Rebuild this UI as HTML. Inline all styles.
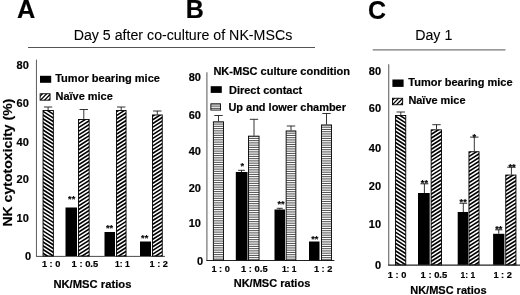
<!DOCTYPE html>
<html><head><meta charset="utf-8"><title>NK cytotoxicity</title>
<style>
html,body{margin:0;padding:0;background:#fff;}
body{width:520px;height:295px;overflow:hidden;}
svg{display:block;font-family:"Liberation Sans", Arial, sans-serif;fill:#000;}
text{stroke:#000;stroke-width:0.18px;stroke-linejoin:round;}
text.n{stroke-width:0.08px;}
</style></head><body>
<svg width="520" height="295" viewBox="0 0 520 295">
<rect width="520" height="295" fill="#fff"/>

<text x="16.9" y="18.5" transform="rotate(0.02 16.9 18.5)" font-size="25.3" font-weight="bold" text-anchor="start" >A</text>
<text x="185.7" y="18.5" transform="rotate(0.02 185.7 18.5)" font-size="25" font-weight="bold" text-anchor="start" >B</text>
<text x="368.1" y="18.7" transform="rotate(0.02 368.1 18.7)" font-size="25" font-weight="bold" text-anchor="start" >C</text>
<text class="n" x="73.65" y="40.1" transform="rotate(0.02 73.65 40.1)" font-size="14" font-weight="normal" text-anchor="start" textLength="218.6" lengthAdjust="spacingAndGlyphs" >Day 5 after co-culture of NK-MSCs</text>
<text class="n" x="415.2" y="40.1" transform="rotate(0.02 415.2 40.1)" font-size="14" font-weight="normal" text-anchor="start" textLength="37.1" lengthAdjust="spacingAndGlyphs" >Day 1</text>
<path d="M28 47.5H315" stroke="#555" stroke-width="1"/>
<path d="M372.7 49.9H505.5" stroke="#777" stroke-width="1.4"/>
<path d="M36.45 59.7V256.4" stroke="#4a4a4a" stroke-width="0.9" fill="none"/>
<path d="M36.150000000000006 256.4H165" stroke="#2a2a2a" stroke-width="0.85" fill="none"/>
<text x="28.8" y="69.15" transform="rotate(0.02 28.8 69.15)" font-size="11" font-weight="bold" text-anchor="end" >80</text>
<text x="28.8" y="106.95" transform="rotate(0.02 28.8 106.95)" font-size="11" font-weight="bold" text-anchor="end" >60</text>
<text x="28.8" y="145.55" transform="rotate(0.02 28.8 145.55)" font-size="11" font-weight="bold" text-anchor="end" >40</text>
<text x="28.8" y="183.25" transform="rotate(0.02 28.8 183.25)" font-size="11" font-weight="bold" text-anchor="end" >20</text>
<text x="28.8" y="222.25" transform="rotate(0.02 28.8 222.25)" font-size="11" font-weight="bold" text-anchor="end" >10</text>
<text x="31.0" y="259.75" transform="rotate(0.02 31.0 259.75)" font-size="11" font-weight="bold" text-anchor="end" >0</text>
<text transform="translate(12.4,162.6) rotate(-90)" font-size="13.3" font-weight="bold" text-anchor="middle" textLength="128" lengthAdjust="spacingAndGlyphs">NK cytotoxicity (%)</text>
<clipPath id="c1"><rect x="43.05" y="110.45" width="10.30" height="145.55"/></clipPath>
<rect x="43.05" y="110.45" width="10.30" height="145.55" fill="#fff"/>
<path clip-path="url(#c1)" d="M42.05 99.52L54.35 107.35M42.05 103.25L54.35 111.09M42.05 106.99L54.35 114.82M42.05 110.72L54.35 118.56M42.05 114.46L54.35 122.29M42.05 118.19L54.35 126.03M42.05 121.93L54.35 129.76M42.05 125.66L54.35 133.50M42.05 129.40L54.35 137.23M42.05 133.13L54.35 140.97M42.05 136.87L54.35 144.70M42.05 140.60L54.35 148.44M42.05 144.34L54.35 152.17M42.05 148.07L54.35 155.91M42.05 151.81L54.35 159.64M42.05 155.54L54.35 163.38M42.05 159.27L54.35 167.11M42.05 163.01L54.35 170.85M42.05 166.74L54.35 174.58M42.05 170.48L54.35 178.32M42.05 174.21L54.35 182.05M42.05 177.95L54.35 185.79M42.05 181.68L54.35 189.52M42.05 185.42L54.35 193.26M42.05 189.15L54.35 196.99M42.05 192.89L54.35 200.73M42.05 196.62L54.35 204.46M42.05 200.36L54.35 208.20M42.05 204.09L54.35 211.93M42.05 207.83L54.35 215.66M42.05 211.56L54.35 219.40M42.05 215.30L54.35 223.13M42.05 219.03L54.35 226.87M42.05 222.77L54.35 230.60M42.05 226.50L54.35 234.34M42.05 230.24L54.35 238.07M42.05 233.97L54.35 241.81M42.05 237.71L54.35 245.54M42.05 241.44L54.35 249.28M42.05 245.18L54.35 253.01M42.05 248.91L54.35 256.75M42.05 252.65L54.35 260.48M42.05 256.38L54.35 264.22M42.05 260.12L54.35 267.95M42.05 263.85L54.35 271.69" stroke="#000" stroke-width="1.6" fill="none"/>
<rect x="43.05" y="110.45" width="10.30" height="145.55" fill="none" stroke="#000" stroke-width="0.9"/>
<path d="M48.1 110V107M43.9 107H52.300000000000004" stroke="#111" stroke-width="0.85" fill="none"/>
<rect x="65.5" y="207.5" width="11.50" height="48.50" fill="#000"/>
<clipPath id="c2"><rect x="78.45" y="119.45" width="10.70" height="136.55"/></clipPath>
<rect x="78.45" y="119.45" width="10.70" height="136.55" fill="#fff"/>
<path clip-path="url(#c2)" d="M77.45 109.54L90.15 101.44M77.45 113.27L90.15 105.18M77.45 117.01L90.15 108.91M77.45 120.74L90.15 112.65M77.45 124.48L90.15 116.38M77.45 128.21L90.15 120.12M77.45 131.95L90.15 123.85M77.45 135.68L90.15 127.59M77.45 139.41L90.15 131.32M77.45 143.15L90.15 135.06M77.45 146.88L90.15 138.79M77.45 150.62L90.15 142.53M77.45 154.35L90.15 146.26M77.45 158.09L90.15 150.00M77.45 161.82L90.15 153.73M77.45 165.56L90.15 157.47M77.45 169.29L90.15 161.20M77.45 173.03L90.15 164.94M77.45 176.76L90.15 168.67M77.45 180.50L90.15 172.41M77.45 184.23L90.15 176.14M77.45 187.97L90.15 179.88M77.45 191.70L90.15 183.61M77.45 195.44L90.15 187.35M77.45 199.17L90.15 191.08M77.45 202.91L90.15 194.82M77.45 206.64L90.15 198.55M77.45 210.38L90.15 202.29M77.45 214.11L90.15 206.02M77.45 217.85L90.15 209.76M77.45 221.58L90.15 213.49M77.45 225.32L90.15 217.23M77.45 229.05L90.15 220.96M77.45 232.79L90.15 224.70M77.45 236.52L90.15 228.43M77.45 240.26L90.15 232.17M77.45 243.99L90.15 235.90M77.45 247.73L90.15 239.64M77.45 251.46L90.15 243.37M77.45 255.20L90.15 247.11M77.45 258.93L90.15 250.84M77.45 262.67L90.15 254.58M77.45 266.40L90.15 258.31" stroke="#000" stroke-width="1.6" fill="none"/>
<rect x="78.45" y="119.45" width="10.70" height="136.55" fill="none" stroke="#000" stroke-width="0.9"/>
<path d="M83.8 119V109.5M79.6 109.5H88.0" stroke="#111" stroke-width="0.85" fill="none"/>
<rect x="104.5" y="232" width="10.50" height="24.00" fill="#000"/>
<clipPath id="c3"><rect x="116.45" y="110.45" width="9.60" height="145.55"/></clipPath>
<rect x="116.45" y="110.45" width="9.60" height="145.55" fill="#fff"/>
<path clip-path="url(#c3)" d="M115.45 101.24L127.05 93.85M115.45 104.97L127.05 97.58M115.45 108.71L127.05 101.32M115.45 112.44L127.05 105.05M115.45 116.18L127.05 108.79M115.45 119.91L127.05 112.52M115.45 123.65L127.05 116.26M115.45 127.38L127.05 119.99M115.45 131.12L127.05 123.73M115.45 134.85L127.05 127.46M115.45 138.59L127.05 131.20M115.45 142.32L127.05 134.93M115.45 146.06L127.05 138.67M115.45 149.79L127.05 142.40M115.45 153.53L127.05 146.14M115.45 157.26L127.05 149.87M115.45 161.00L127.05 153.60M115.45 164.73L127.05 157.34M115.45 168.46L127.05 161.07M115.45 172.20L127.05 164.81M115.45 175.93L127.05 168.54M115.45 179.67L127.05 172.28M115.45 183.40L127.05 176.01M115.45 187.14L127.05 179.75M115.45 190.87L127.05 183.48M115.45 194.61L127.05 187.22M115.45 198.34L127.05 190.95M115.45 202.08L127.05 194.69M115.45 205.81L127.05 198.42M115.45 209.55L127.05 202.16M115.45 213.28L127.05 205.89M115.45 217.02L127.05 209.63M115.45 220.75L127.05 213.36M115.45 224.49L127.05 217.10M115.45 228.22L127.05 220.83M115.45 231.96L127.05 224.57M115.45 235.69L127.05 228.30M115.45 239.43L127.05 232.04M115.45 243.16L127.05 235.77M115.45 246.90L127.05 239.51M115.45 250.63L127.05 243.24M115.45 254.37L127.05 246.98M115.45 258.10L127.05 250.71M115.45 261.84L127.05 254.45M115.45 265.57L127.05 258.18" stroke="#000" stroke-width="1.6" fill="none"/>
<rect x="116.45" y="110.45" width="9.60" height="145.55" fill="none" stroke="#000" stroke-width="0.9"/>
<path d="M121.2 110V107M117.0 107H125.4" stroke="#111" stroke-width="0.85" fill="none"/>
<rect x="140" y="241.5" width="11.00" height="14.50" fill="#000"/>
<clipPath id="c4"><rect x="152.45" y="114.95" width="9.80" height="141.05"/></clipPath>
<rect x="152.45" y="114.95" width="9.80" height="141.05" fill="#fff"/>
<path clip-path="url(#c4)" d="M151.45 105.61L163.25 98.09M151.45 109.34L163.25 101.83M151.45 113.08L163.25 105.56M151.45 116.81L163.25 109.30M151.45 120.55L163.25 113.03M151.45 124.28L163.25 116.77M151.45 128.02L163.25 120.50M151.45 131.75L163.25 124.24M151.45 135.49L163.25 127.97M151.45 139.22L163.25 131.71M151.45 142.96L163.25 135.44M151.45 146.69L163.25 139.18M151.45 150.43L163.25 142.91M151.45 154.16L163.25 146.65M151.45 157.90L163.25 150.38M151.45 161.63L163.25 154.12M151.45 165.37L163.25 157.85M151.45 169.10L163.25 161.59M151.45 172.84L163.25 165.32M151.45 176.57L163.25 169.05M151.45 180.31L163.25 172.79M151.45 184.04L163.25 176.52M151.45 187.78L163.25 180.26M151.45 191.51L163.25 183.99M151.45 195.25L163.25 187.73M151.45 198.98L163.25 191.46M151.45 202.72L163.25 195.20M151.45 206.45L163.25 198.93M151.45 210.19L163.25 202.67M151.45 213.92L163.25 206.40M151.45 217.66L163.25 210.14M151.45 221.39L163.25 213.87M151.45 225.13L163.25 217.61M151.45 228.86L163.25 221.34M151.45 232.60L163.25 225.08M151.45 236.33L163.25 228.81M151.45 240.07L163.25 232.55M151.45 243.80L163.25 236.28M151.45 247.54L163.25 240.02M151.45 251.27L163.25 243.75M151.45 255.01L163.25 247.49M151.45 258.74L163.25 251.22M151.45 262.48L163.25 254.96M151.45 266.21L163.25 258.69" stroke="#000" stroke-width="1.6" fill="none"/>
<rect x="152.45" y="114.95" width="9.80" height="141.05" fill="none" stroke="#000" stroke-width="0.9"/>
<path d="M157.3 114.5V111M153.10000000000002 111H161.5" stroke="#111" stroke-width="0.85" fill="none"/>
<text x="71.7" y="201.8" transform="rotate(0.02 71.7 201.8)" font-size="9.2" font-weight="bold" text-anchor="middle" >**</text>
<text x="109.5" y="231.3" transform="rotate(0.02 109.5 231.3)" font-size="9.2" font-weight="bold" text-anchor="middle" >**</text>
<text x="144.7" y="240.9" transform="rotate(0.02 144.7 240.9)" font-size="9.2" font-weight="bold" text-anchor="middle" >**</text>
<text x="41.9" y="267" transform="rotate(0.02 41.9 267)" font-size="9.1" font-weight="bold" text-anchor="start" textLength="18.5" lengthAdjust="spacingAndGlyphs" >1 : 0</text>
<text x="71.6" y="267" transform="rotate(0.02 71.6 267)" font-size="9.1" font-weight="bold" text-anchor="start" textLength="26.6" lengthAdjust="spacingAndGlyphs" >1 : 0.5</text>
<text x="115.0" y="267" transform="rotate(0.02 115.0 267)" font-size="9.1" font-weight="bold" text-anchor="start" textLength="14.6" lengthAdjust="spacingAndGlyphs" >1: 1</text>
<text x="149.5" y="267" transform="rotate(0.02 149.5 267)" font-size="9.1" font-weight="bold" text-anchor="start" textLength="18.4" lengthAdjust="spacingAndGlyphs" >1 : 2</text>
<text x="53.4" y="287.8" transform="rotate(0.02 53.4 287.8)" font-size="10.5" font-weight="bold" text-anchor="start" textLength="78" lengthAdjust="spacingAndGlyphs" >NK/MSC ratios</text>
<rect x="40" y="75.8" width="11.2" height="7" fill="#000"/>
<text x="55.2" y="81.9" transform="rotate(0.02 55.2 81.9)" font-size="10" font-weight="bold" text-anchor="start" textLength="104.8" lengthAdjust="spacingAndGlyphs" >Tumor bearing mice</text>
<clipPath id="c5"><rect x="40.15" y="93.75" width="9.90" height="6.40"/></clipPath>
<rect x="40.15" y="93.75" width="9.90" height="6.40" fill="#fff"/>
<path clip-path="url(#c5)" d="M39.15 80.29L51.05 67.96M39.15 84.53L51.05 72.21M39.15 88.78L51.05 76.46M39.15 93.03L51.05 80.70M39.15 97.27L51.05 84.95M39.15 101.52L51.05 89.20M39.15 105.77L51.05 93.44M39.15 110.01L51.05 97.69M39.15 114.26L51.05 101.94" stroke="#000" stroke-width="1.25" fill="none"/>
<rect x="40.15" y="93.75" width="9.90" height="6.40" fill="none" stroke="#000" stroke-width="0.9"/>
<text x="55.5" y="99.5" transform="rotate(0.02 55.5 99.5)" font-size="10" font-weight="bold" text-anchor="start" textLength="57.3" lengthAdjust="spacingAndGlyphs" >Naïve mice</text>
<path d="M206.9 72.2V260.5" stroke="#777" stroke-width="1.25" fill="none"/>
<path d="M206.3 260.5H334.4" stroke="#222" stroke-width="1.1" fill="none"/>
<text x="200.9" y="80.95" transform="rotate(0.02 200.9 80.95)" font-size="11" font-weight="bold" text-anchor="end" >80</text>
<text x="200.9" y="118.85" transform="rotate(0.02 200.9 118.85)" font-size="11" font-weight="bold" text-anchor="end" >60</text>
<text x="200.9" y="154.55" transform="rotate(0.02 200.9 154.55)" font-size="11" font-weight="bold" text-anchor="end" >40</text>
<text x="200.9" y="192.25" transform="rotate(0.02 200.9 192.25)" font-size="11" font-weight="bold" text-anchor="end" >20</text>
<text x="200.9" y="226.75" transform="rotate(0.02 200.9 226.75)" font-size="11" font-weight="bold" text-anchor="end" >10</text>
<text x="203.0" y="264.55" transform="rotate(0.02 203.0 264.55)" font-size="11" font-weight="bold" text-anchor="end" >0</text>
<clipPath id="c6"><rect x="213.35" y="121.85" width="10.20" height="138.35"/></clipPath>
<rect x="213.35" y="121.85" width="10.20" height="138.35" fill="#fff"/>
<path clip-path="url(#c6)" d="M213.35 121.85H223.55M213.35 124.10H223.55M213.35 126.35H223.55M213.35 128.60H223.55M213.35 130.85H223.55M213.35 133.10H223.55M213.35 135.35H223.55M213.35 137.60H223.55M213.35 139.85H223.55M213.35 142.10H223.55M213.35 144.35H223.55M213.35 146.60H223.55M213.35 148.85H223.55M213.35 151.10H223.55M213.35 153.35H223.55M213.35 155.60H223.55M213.35 157.85H223.55M213.35 160.10H223.55M213.35 162.35H223.55M213.35 164.60H223.55M213.35 166.85H223.55M213.35 169.10H223.55M213.35 171.35H223.55M213.35 173.60H223.55M213.35 175.85H223.55M213.35 178.10H223.55M213.35 180.35H223.55M213.35 182.60H223.55M213.35 184.85H223.55M213.35 187.10H223.55M213.35 189.35H223.55M213.35 191.60H223.55M213.35 193.85H223.55M213.35 196.10H223.55M213.35 198.35H223.55M213.35 200.60H223.55M213.35 202.85H223.55M213.35 205.10H223.55M213.35 207.35H223.55M213.35 209.60H223.55M213.35 211.85H223.55M213.35 214.10H223.55M213.35 216.35H223.55M213.35 218.60H223.55M213.35 220.85H223.55M213.35 223.10H223.55M213.35 225.35H223.55M213.35 227.60H223.55M213.35 229.85H223.55M213.35 232.10H223.55M213.35 234.35H223.55M213.35 236.60H223.55M213.35 238.85H223.55M213.35 241.10H223.55M213.35 243.35H223.55M213.35 245.60H223.55M213.35 247.85H223.55M213.35 250.10H223.55M213.35 252.35H223.55M213.35 254.60H223.55M213.35 256.85H223.55M213.35 259.10H223.55" stroke="#222" stroke-width="0.82" fill="none"/>
<rect x="213.35" y="121.85" width="10.20" height="138.35" fill="none" stroke="#000" stroke-width="0.9"/>
<path d="M218.5 121.4V115.5M214.3 115.5H222.7" stroke="#111" stroke-width="0.85" fill="none"/>
<rect x="235.8" y="172" width="11.70" height="88.20" fill="#000"/>
<path d="M241.5 172V170.3M238.1 170.3H244.9" stroke="#111" stroke-width="0.85" fill="none"/>
<clipPath id="c7"><rect x="248.45" y="136.15" width="10.60" height="124.05"/></clipPath>
<rect x="248.45" y="136.15" width="10.60" height="124.05" fill="#fff"/>
<path clip-path="url(#c7)" d="M248.45 136.15H259.05M248.45 138.40H259.05M248.45 140.65H259.05M248.45 142.90H259.05M248.45 145.15H259.05M248.45 147.40H259.05M248.45 149.65H259.05M248.45 151.90H259.05M248.45 154.15H259.05M248.45 156.40H259.05M248.45 158.65H259.05M248.45 160.90H259.05M248.45 163.15H259.05M248.45 165.40H259.05M248.45 167.65H259.05M248.45 169.90H259.05M248.45 172.15H259.05M248.45 174.40H259.05M248.45 176.65H259.05M248.45 178.90H259.05M248.45 181.15H259.05M248.45 183.40H259.05M248.45 185.65H259.05M248.45 187.90H259.05M248.45 190.15H259.05M248.45 192.40H259.05M248.45 194.65H259.05M248.45 196.90H259.05M248.45 199.15H259.05M248.45 201.40H259.05M248.45 203.65H259.05M248.45 205.90H259.05M248.45 208.15H259.05M248.45 210.40H259.05M248.45 212.65H259.05M248.45 214.90H259.05M248.45 217.15H259.05M248.45 219.40H259.05M248.45 221.65H259.05M248.45 223.90H259.05M248.45 226.15H259.05M248.45 228.40H259.05M248.45 230.65H259.05M248.45 232.90H259.05M248.45 235.15H259.05M248.45 237.40H259.05M248.45 239.65H259.05M248.45 241.90H259.05M248.45 244.15H259.05M248.45 246.40H259.05M248.45 248.65H259.05M248.45 250.90H259.05M248.45 253.15H259.05M248.45 255.40H259.05M248.45 257.65H259.05M248.45 259.90H259.05" stroke="#222" stroke-width="0.82" fill="none"/>
<rect x="248.45" y="136.15" width="10.60" height="124.05" fill="none" stroke="#000" stroke-width="0.9"/>
<path d="M254 135.7V119.3M249.8 119.3H258.2" stroke="#111" stroke-width="0.85" fill="none"/>
<rect x="274.5" y="209.5" width="10.50" height="50.70" fill="#000"/>
<path d="M279.8 209.5V208.3M276.8 208.3H282.8" stroke="#111" stroke-width="0.85" fill="none"/>
<clipPath id="c8"><rect x="286.15" y="130.95" width="9.70" height="129.25"/></clipPath>
<rect x="286.15" y="130.95" width="9.70" height="129.25" fill="#fff"/>
<path clip-path="url(#c8)" d="M286.15 130.95H295.85M286.15 133.20H295.85M286.15 135.45H295.85M286.15 137.70H295.85M286.15 139.95H295.85M286.15 142.20H295.85M286.15 144.45H295.85M286.15 146.70H295.85M286.15 148.95H295.85M286.15 151.20H295.85M286.15 153.45H295.85M286.15 155.70H295.85M286.15 157.95H295.85M286.15 160.20H295.85M286.15 162.45H295.85M286.15 164.70H295.85M286.15 166.95H295.85M286.15 169.20H295.85M286.15 171.45H295.85M286.15 173.70H295.85M286.15 175.95H295.85M286.15 178.20H295.85M286.15 180.45H295.85M286.15 182.70H295.85M286.15 184.95H295.85M286.15 187.20H295.85M286.15 189.45H295.85M286.15 191.70H295.85M286.15 193.95H295.85M286.15 196.20H295.85M286.15 198.45H295.85M286.15 200.70H295.85M286.15 202.95H295.85M286.15 205.20H295.85M286.15 207.45H295.85M286.15 209.70H295.85M286.15 211.95H295.85M286.15 214.20H295.85M286.15 216.45H295.85M286.15 218.70H295.85M286.15 220.95H295.85M286.15 223.20H295.85M286.15 225.45H295.85M286.15 227.70H295.85M286.15 229.95H295.85M286.15 232.20H295.85M286.15 234.45H295.85M286.15 236.70H295.85M286.15 238.95H295.85M286.15 241.20H295.85M286.15 243.45H295.85M286.15 245.70H295.85M286.15 247.95H295.85M286.15 250.20H295.85M286.15 252.45H295.85M286.15 254.70H295.85M286.15 256.95H295.85M286.15 259.20H295.85" stroke="#222" stroke-width="0.82" fill="none"/>
<rect x="286.15" y="130.95" width="9.70" height="129.25" fill="none" stroke="#000" stroke-width="0.9"/>
<path d="M291 130.5V126M286.8 126H295.2" stroke="#111" stroke-width="0.85" fill="none"/>
<rect x="309" y="241.5" width="10.50" height="18.70" fill="#000"/>
<clipPath id="c9"><rect x="321.45" y="124.95" width="10.10" height="135.25"/></clipPath>
<rect x="321.45" y="124.95" width="10.10" height="135.25" fill="#fff"/>
<path clip-path="url(#c9)" d="M321.45 124.95H331.55M321.45 127.20H331.55M321.45 129.45H331.55M321.45 131.70H331.55M321.45 133.95H331.55M321.45 136.20H331.55M321.45 138.45H331.55M321.45 140.70H331.55M321.45 142.95H331.55M321.45 145.20H331.55M321.45 147.45H331.55M321.45 149.70H331.55M321.45 151.95H331.55M321.45 154.20H331.55M321.45 156.45H331.55M321.45 158.70H331.55M321.45 160.95H331.55M321.45 163.20H331.55M321.45 165.45H331.55M321.45 167.70H331.55M321.45 169.95H331.55M321.45 172.20H331.55M321.45 174.45H331.55M321.45 176.70H331.55M321.45 178.95H331.55M321.45 181.20H331.55M321.45 183.45H331.55M321.45 185.70H331.55M321.45 187.95H331.55M321.45 190.20H331.55M321.45 192.45H331.55M321.45 194.70H331.55M321.45 196.95H331.55M321.45 199.20H331.55M321.45 201.45H331.55M321.45 203.70H331.55M321.45 205.95H331.55M321.45 208.20H331.55M321.45 210.45H331.55M321.45 212.70H331.55M321.45 214.95H331.55M321.45 217.20H331.55M321.45 219.45H331.55M321.45 221.70H331.55M321.45 223.95H331.55M321.45 226.20H331.55M321.45 228.45H331.55M321.45 230.70H331.55M321.45 232.95H331.55M321.45 235.20H331.55M321.45 237.45H331.55M321.45 239.70H331.55M321.45 241.95H331.55M321.45 244.20H331.55M321.45 246.45H331.55M321.45 248.70H331.55M321.45 250.95H331.55M321.45 253.20H331.55M321.45 255.45H331.55M321.45 257.70H331.55M321.45 259.95H331.55" stroke="#222" stroke-width="0.82" fill="none"/>
<rect x="321.45" y="124.95" width="10.10" height="135.25" fill="none" stroke="#000" stroke-width="0.9"/>
<path d="M326.5 124.5V113.5M322.3 113.5H330.7" stroke="#111" stroke-width="0.85" fill="none"/>
<text x="242.2" y="169.1" transform="rotate(0.02 242.2 169.1)" font-size="9.2" font-weight="bold" text-anchor="middle" >*</text>
<text x="281" y="207.3" transform="rotate(0.02 281 207.3)" font-size="9.2" font-weight="bold" text-anchor="middle" >**</text>
<text x="314.75" y="241.8" transform="rotate(0.02 314.75 241.8)" font-size="9.2" font-weight="bold" text-anchor="middle" >**</text>
<text x="211.4" y="272.2" transform="rotate(0.02 211.4 272.2)" font-size="9.1" font-weight="bold" text-anchor="start" textLength="18.5" lengthAdjust="spacingAndGlyphs" >1 : 0</text>
<text x="241" y="272.2" transform="rotate(0.02 241 272.2)" font-size="9.1" font-weight="bold" text-anchor="start" textLength="26.6" lengthAdjust="spacingAndGlyphs" >1 : 0.5</text>
<text x="281.9" y="272.2" transform="rotate(0.02 281.9 272.2)" font-size="9.1" font-weight="bold" text-anchor="start" textLength="14.6" lengthAdjust="spacingAndGlyphs" >1: 1</text>
<text x="313.9" y="272.2" transform="rotate(0.02 313.9 272.2)" font-size="9.1" font-weight="bold" text-anchor="start" textLength="18.4" lengthAdjust="spacingAndGlyphs" >1 : 2</text>
<text x="233.7" y="287.4" transform="rotate(0.02 233.7 287.4)" font-size="10.5" font-weight="bold" text-anchor="start" textLength="76.6" lengthAdjust="spacingAndGlyphs" >NK/MSC ratios</text>
<text x="213.4" y="74.75" transform="rotate(0.02 213.4 74.75)" font-size="10" font-weight="bold" text-anchor="start" textLength="136.6" lengthAdjust="spacingAndGlyphs" >NK-MSC culture condition</text>
<rect x="210.7" y="86.2" width="11.1" height="6.7" fill="#000"/>
<text x="229" y="93.8" transform="rotate(0.02 229 93.8)" font-size="10" font-weight="bold" text-anchor="start" textLength="73.2" lengthAdjust="spacingAndGlyphs" >Direct contact</text>
<clipPath id="c10"><rect x="210.85" y="103.85" width="9.70" height="6.20"/></clipPath>
<rect x="210.85" y="103.85" width="9.70" height="6.20" fill="#fff"/>
<path clip-path="url(#c10)" d="M210.85 103.85H220.55M210.85 106.10H220.55M210.85 108.35H220.55M210.85 110.60H220.55" stroke="#222" stroke-width="0.82" fill="none"/>
<rect x="210.85" y="103.85" width="9.70" height="6.20" fill="none" stroke="#000" stroke-width="0.9"/>
<text x="228.4" y="111.4" transform="rotate(0.02 228.4 111.4)" font-size="10" font-weight="bold" text-anchor="start" textLength="117.6" lengthAdjust="spacingAndGlyphs" >Up and lower chamber</text>
<path d="M388.7 64.2V265.1" stroke="#777" stroke-width="1.25" fill="none"/>
<path d="M388.09999999999997 265.1H520" stroke="#222" stroke-width="1.1" fill="none"/>
<text x="381.1" y="74.65" transform="rotate(0.02 381.1 74.65)" font-size="11" font-weight="bold" text-anchor="end" >80</text>
<text x="381.1" y="111.85" transform="rotate(0.02 381.1 111.85)" font-size="11" font-weight="bold" text-anchor="end" >60</text>
<text x="381.1" y="151.95" transform="rotate(0.02 381.1 151.95)" font-size="11" font-weight="bold" text-anchor="end" >40</text>
<text x="381.1" y="189.95" transform="rotate(0.02 381.1 189.95)" font-size="11" font-weight="bold" text-anchor="end" >20</text>
<text x="381.1" y="227.95" transform="rotate(0.02 381.1 227.95)" font-size="11" font-weight="bold" text-anchor="end" >10</text>
<text x="381.1" y="268.95" transform="rotate(0.02 381.1 268.95)" font-size="11" font-weight="bold" text-anchor="end" >0</text>
<clipPath id="c11"><rect x="395.45" y="115.45" width="10.30" height="149.35"/></clipPath>
<rect x="395.45" y="115.45" width="10.30" height="149.35" fill="#fff"/>
<path clip-path="url(#c11)" d="M394.45 104.52L406.75 112.35M394.45 108.25L406.75 116.09M394.45 111.99L406.75 119.82M394.45 115.72L406.75 123.56M394.45 119.46L406.75 127.29M394.45 123.19L406.75 131.03M394.45 126.93L406.75 134.76M394.45 130.66L406.75 138.50M394.45 134.40L406.75 142.23M394.45 138.13L406.75 145.97M394.45 141.87L406.75 149.70M394.45 145.60L406.75 153.44M394.45 149.34L406.75 157.17M394.45 153.07L406.75 160.91M394.45 156.81L406.75 164.64M394.45 160.54L406.75 168.38M394.45 164.27L406.75 172.11M394.45 168.01L406.75 175.85M394.45 171.74L406.75 179.58M394.45 175.48L406.75 183.32M394.45 179.21L406.75 187.05M394.45 182.95L406.75 190.79M394.45 186.68L406.75 194.52M394.45 190.42L406.75 198.26M394.45 194.15L406.75 201.99M394.45 197.89L406.75 205.73M394.45 201.62L406.75 209.46M394.45 205.36L406.75 213.20M394.45 209.09L406.75 216.93M394.45 212.83L406.75 220.66M394.45 216.56L406.75 224.40M394.45 220.30L406.75 228.13M394.45 224.03L406.75 231.87M394.45 227.77L406.75 235.60M394.45 231.50L406.75 239.34M394.45 235.24L406.75 243.07M394.45 238.97L406.75 246.81M394.45 242.71L406.75 250.54M394.45 246.44L406.75 254.28M394.45 250.18L406.75 258.01M394.45 253.91L406.75 261.75M394.45 257.65L406.75 265.48M394.45 261.38L406.75 269.22M394.45 265.12L406.75 272.95M394.45 268.85L406.75 276.69M394.45 272.59L406.75 280.42" stroke="#000" stroke-width="1.6" fill="none"/>
<rect x="395.45" y="115.45" width="10.30" height="149.35" fill="none" stroke="#000" stroke-width="0.9"/>
<path d="M400.8 115V112M396.6 112H405.0" stroke="#111" stroke-width="0.85" fill="none"/>
<rect x="418" y="193" width="11.70" height="71.80" fill="#000"/>
<path d="M424.4 193V183.8M420.4 183.8H428.4" stroke="#111" stroke-width="0.85" fill="none"/>
<clipPath id="c12"><rect x="431.15" y="129.85" width="10.40" height="134.95"/></clipPath>
<rect x="431.15" y="129.85" width="10.40" height="134.95" fill="#fff"/>
<path clip-path="url(#c12)" d="M430.15 120.13L442.55 112.23M430.15 123.86L442.55 115.96M430.15 127.60L442.55 119.70M430.15 131.33L442.55 123.43M430.15 135.07L442.55 127.17M430.15 138.80L442.55 130.90M430.15 142.54L442.55 134.64M430.15 146.27L442.55 138.37M430.15 150.01L442.55 142.11M430.15 153.74L442.55 145.84M430.15 157.48L442.55 149.58M430.15 161.21L442.55 153.31M430.15 164.95L442.55 157.05M430.15 168.68L442.55 160.78M430.15 172.42L442.55 164.52M430.15 176.15L442.55 168.25M430.15 179.89L442.55 171.99M430.15 183.62L442.55 175.72M430.15 187.36L442.55 179.46M430.15 191.09L442.55 183.19M430.15 194.83L442.55 186.93M430.15 198.56L442.55 190.66M430.15 202.29L442.55 194.40M430.15 206.03L442.55 198.13M430.15 209.76L442.55 201.87M430.15 213.50L442.55 205.60M430.15 217.23L442.55 209.33M430.15 220.97L442.55 213.07M430.15 224.70L442.55 216.80M430.15 228.44L442.55 220.54M430.15 232.17L442.55 224.27M430.15 235.91L442.55 228.01M430.15 239.64L442.55 231.74M430.15 243.38L442.55 235.48M430.15 247.11L442.55 239.21M430.15 250.85L442.55 242.95M430.15 254.58L442.55 246.68M430.15 258.32L442.55 250.42M430.15 262.05L442.55 254.15M430.15 265.79L442.55 257.89M430.15 269.52L442.55 261.62M430.15 273.26L442.55 265.36" stroke="#000" stroke-width="1.6" fill="none"/>
<rect x="431.15" y="129.85" width="10.40" height="134.95" fill="none" stroke="#000" stroke-width="0.9"/>
<path d="M436.5 129.4V124.7M432.3 124.7H440.7" stroke="#111" stroke-width="0.85" fill="none"/>
<rect x="457.7" y="212" width="10.40" height="52.80" fill="#000"/>
<path d="M463.3 212V203.3M459.5 203.3H467.1" stroke="#111" stroke-width="0.85" fill="none"/>
<clipPath id="c13"><rect x="468.95" y="151.75" width="10.10" height="113.05"/></clipPath>
<rect x="468.95" y="151.75" width="10.10" height="113.05" fill="#fff"/>
<path clip-path="url(#c13)" d="M467.95 142.22L480.05 134.51M467.95 145.95L480.05 138.24M467.95 149.69L480.05 141.98M467.95 153.42L480.05 145.71M467.95 157.16L480.05 149.45M467.95 160.89L480.05 153.18M467.95 164.63L480.05 156.92M467.95 168.36L480.05 160.65M467.95 172.10L480.05 164.39M467.95 175.83L480.05 168.12M467.95 179.57L480.05 171.86M467.95 183.30L480.05 175.59M467.95 187.04L480.05 179.33M467.95 190.77L480.05 183.06M467.95 194.51L480.05 186.80M467.95 198.24L480.05 190.53M467.95 201.98L480.05 194.27M467.95 205.71L480.05 198.00M467.95 209.45L480.05 201.74M467.95 213.18L480.05 205.47M467.95 216.92L480.05 209.21M467.95 220.65L480.05 212.94M467.95 224.39L480.05 216.68M467.95 228.12L480.05 220.41M467.95 231.86L480.05 224.15M467.95 235.59L480.05 227.88M467.95 239.33L480.05 231.62M467.95 243.06L480.05 235.35M467.95 246.80L480.05 239.09M467.95 250.53L480.05 242.82M467.95 254.27L480.05 246.56M467.95 258.00L480.05 250.29M467.95 261.74L480.05 254.03M467.95 265.47L480.05 257.76M467.95 269.21L480.05 261.50M467.95 272.94L480.05 265.23" stroke="#000" stroke-width="1.6" fill="none"/>
<rect x="468.95" y="151.75" width="10.10" height="113.05" fill="none" stroke="#000" stroke-width="0.9"/>
<path d="M474.3 151.3V137.1M470.1 137.1H478.5" stroke="#111" stroke-width="0.85" fill="none"/>
<rect x="493.1" y="233.8" width="11.30" height="31.00" fill="#000"/>
<path d="M498.75 233.8V229.8M495.15 229.8H502.35" stroke="#111" stroke-width="0.85" fill="none"/>
<clipPath id="c14"><rect x="505.75" y="175.05" width="10.20" height="89.75"/></clipPath>
<rect x="505.75" y="175.05" width="10.20" height="89.75" fill="#fff"/>
<path clip-path="url(#c14)" d="M504.75 165.45L516.95 157.68M504.75 169.19L516.95 161.42M504.75 172.92L516.95 165.15M504.75 176.66L516.95 168.89M504.75 180.39L516.95 172.62M504.75 184.13L516.95 176.36M504.75 187.86L516.95 180.09M504.75 191.60L516.95 183.83M504.75 195.33L516.95 187.56M504.75 199.07L516.95 191.30M504.75 202.80L516.95 195.03M504.75 206.54L516.95 198.77M504.75 210.27L516.95 202.50M504.75 214.01L516.95 206.24M504.75 217.74L516.95 209.97M504.75 221.48L516.95 213.71M504.75 225.21L516.95 217.44M504.75 228.95L516.95 221.18M504.75 232.68L516.95 224.91M504.75 236.42L516.95 228.65M504.75 240.15L516.95 232.38M504.75 243.89L516.95 236.12M504.75 247.62L516.95 239.85M504.75 251.36L516.95 243.58M504.75 255.09L516.95 247.32M504.75 258.83L516.95 251.05M504.75 262.56L516.95 254.79M504.75 266.30L516.95 258.52M504.75 270.03L516.95 262.26M504.75 273.77L516.95 265.99" stroke="#000" stroke-width="1.6" fill="none"/>
<rect x="505.75" y="175.05" width="10.20" height="89.75" fill="none" stroke="#000" stroke-width="0.9"/>
<path d="M511.4 174.6V167.2M507.2 167.2H515.6" stroke="#111" stroke-width="0.85" fill="none"/>
<text x="424.4" y="186.2" transform="rotate(0.02 424.4 186.2)" font-size="9.2" font-weight="bold" text-anchor="middle" >**</text>
<text x="463.2" y="205.2" transform="rotate(0.02 463.2 205.2)" font-size="9.2" font-weight="bold" text-anchor="middle" >**</text>
<text x="474.3" y="139.8" transform="rotate(0.02 474.3 139.8)" font-size="9.2" font-weight="bold" text-anchor="middle" >*</text>
<text x="498.75" y="231.9" transform="rotate(0.02 498.75 231.9)" font-size="9.2" font-weight="bold" text-anchor="middle" >**</text>
<text x="512.1" y="169.8" transform="rotate(0.02 512.1 169.8)" font-size="9.2" font-weight="bold" text-anchor="middle" >**</text>
<text x="387.8" y="278" transform="rotate(0.02 387.8 278)" font-size="9.1" font-weight="bold" text-anchor="start" textLength="18.5" lengthAdjust="spacingAndGlyphs" >1 : 0</text>
<text x="420.6" y="278" transform="rotate(0.02 420.6 278)" font-size="9.1" font-weight="bold" text-anchor="start" textLength="26.6" lengthAdjust="spacingAndGlyphs" >1 : 0.5</text>
<text x="460.6" y="278" transform="rotate(0.02 460.6 278)" font-size="9.1" font-weight="bold" text-anchor="start" textLength="14.6" lengthAdjust="spacingAndGlyphs" >1: 1</text>
<text x="493.4" y="278" transform="rotate(0.02 493.4 278)" font-size="9.1" font-weight="bold" text-anchor="start" textLength="18.4" lengthAdjust="spacingAndGlyphs" >1 : 2</text>
<text x="410.2" y="293.7" transform="rotate(0.02 410.2 293.7)" font-size="10.5" font-weight="bold" text-anchor="start" textLength="76.4" lengthAdjust="spacingAndGlyphs" >NK/MSC ratios</text>
<rect x="392.4" y="79.5" width="11.2" height="7.4" fill="#000"/>
<text x="408.3" y="85.9" transform="rotate(0.02 408.3 85.9)" font-size="10" font-weight="bold" text-anchor="start" textLength="104.3" lengthAdjust="spacingAndGlyphs" >Tumor bearing mice</text>
<clipPath id="c15"><rect x="392.45" y="98.25" width="10.20" height="6.50"/></clipPath>
<rect x="392.45" y="98.25" width="10.20" height="6.50" fill="#fff"/>
<path clip-path="url(#c15)" d="M391.45 84.48L403.65 71.84M391.45 88.72L403.65 76.09M391.45 92.97L403.65 80.34M391.45 97.22L403.65 84.58M391.45 101.46L403.65 88.83M391.45 105.71L403.65 93.08M391.45 109.96L403.65 97.32M391.45 114.20L403.65 101.57M391.45 118.45L403.65 105.82" stroke="#000" stroke-width="1.25" fill="none"/>
<rect x="392.45" y="98.25" width="10.20" height="6.50" fill="none" stroke="#000" stroke-width="0.9"/>
<text x="408.4" y="103.7" transform="rotate(0.02 408.4 103.7)" font-size="10" font-weight="bold" text-anchor="start" textLength="57.1" lengthAdjust="spacingAndGlyphs" >Naïve mice</text>
</svg></body></html>
